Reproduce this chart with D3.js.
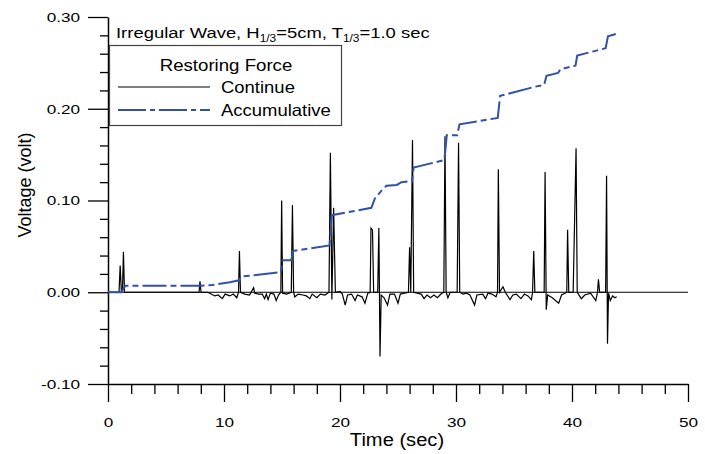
<!DOCTYPE html>
<html>
<head>
<meta charset="utf-8">
<script src="https://cdn.jsdelivr.net/npm/d3@7"></script>
<style>
  body { margin: 0; background: #fff; }
</style>
</head>
<body>
<div id="chart"></div>
<script>
// Restoring force record
// time in sec, voltage in volt

var contT = [0, 0.95, 1.05, 1.15, 1.25, 1.33, 1.42, 7.85, 7.93, 8.02,
  8.6, 8.9, 9.2, 9.5, 9.85, 10.1, 10.5, 10.8, 11.1, 11.25,
  11.33, 11.42, 11.8, 12.2, 12.55, 12.65, 13.0, 13.3, 13.5, 13.65,
  13.8, 14.0, 14.3, 14.5, 14.7, 14.9, 14.97, 15.05, 15.4, 15.8,
  15.9, 16.0, 16.1, 16.4, 16.8, 17.1, 17.4, 17.6, 18.0, 18.3,
  18.7, 19.05, 19.17, 19.3, 19.45, 19.6, 20.0, 20.2, 20.45, 20.65,
  21.0, 21.3, 21.5, 21.9, 22.15, 22.4, 22.6, 22.67, 22.8, 22.9,
  23.25, 23.35, 23.45, 23.55, 23.8, 24.1, 24.3, 24.7, 25.0, 25.2,
  25.9, 26.0, 26.1, 26.25, 26.35, 27.0, 27.25, 27.5, 27.8, 28.1,
  28.4, 28.7, 28.95, 29.05, 29.15, 29.3, 29.5, 30.1, 30.22, 30.32,
  30.6, 30.9, 31.2, 31.6, 31.8, 32.3, 32.55, 32.75, 33.1, 33.45,
  33.58, 33.65, 33.75, 34.05, 34.25, 34.65, 34.9, 35.2, 35.6, 35.9,
  36.2, 36.5, 36.6, 36.7, 36.8, 37.1, 37.6, 37.68, 37.78, 37.9,
  38.3, 38.85, 39.1, 39.4, 39.55, 39.62, 39.72, 40.1, 40.35, 40.45,
  40.8, 41.1, 41.6, 42.05, 42.2, 42.28, 42.38, 42.9, 42.98, 43.06,
  43.15, 43.3, 43.5, 43.7, 43.85];

var contV = [0, 0, 0.029, 0.001, 0.002, 0.044, 0, 0, 0.012, 0,
  0, -0.002, -0.004, -0.003, -0.007, -0.002, -0.004, -0.002, -0.006, 0,
  0.045, 0, -0.002, -0.003, 0.005, -0.001, -0.002, -0.002, -0.007, -0.002,
  -0.008, -0.001, -0.002, -0.009, -0.003, 0, 0.100, -0.001, -0.002, 0,
  0.095, 0, -0.005, -0.002, -0.003, -0.004, -0.007, -0.002, -0.006, -0.002,
  -0.003, 0, 0.152, -0.008, 0.092, 0, 0.001, -0.002, -0.014, -0.003,
  -0.002, -0.009, -0.003, -0.005, -0.012, -0.001, 0, 0.070, 0.068, 0,
  0, 0.070, -0.070, -0.003, -0.006, -0.014, -0.002, -0.002, -0.012, -0.002,
  0, 0.049, 0, 0.166, 0, -0.002, -0.007, -0.003, -0.006, -0.003,
  -0.006, -0.002, 0, 0.170, 0, -0.006, 0, 0, 0.163, 0,
  -0.002, -0.001, -0.003, -0.014, -0.003, -0.002, -0.007, -0.001, -0.002, -0.005,
  0, 0.134, 0, 0.006, 0, -0.008, -0.003, -0.002, -0.007, -0.002,
  -0.004, -0.008, 0, 0.045, 0, 0, 0, 0.131, -0.019, -0.003,
  -0.006, -0.012, -0.003, -0.001, 0, 0.068, 0, 0, 0.157, 0,
  -0.007, -0.003, -0.001, -0.009, 0, 0.014, 0, 0, 0.127, -0.056,
  -0.001, -0.009, -0.004, -0.006, -0.005];

var accT = [0, 1.15, 1.5, 8.0, 9.0, 9.8, 10.5, 11.3, 11.45, 14.9,
  15.05, 15.8, 15.95, 19.1, 19.3, 22.7, 23.0, 23.6, 24.0, 24.9,
  25.3, 26.2, 26.35, 29.0, 29.2, 30.1, 30.3, 33.6, 33.8, 36.8,
  37.6, 37.8, 38.8, 39.0, 40.3, 40.45, 42.9, 43.1, 43.9];

var accV = [0, 0, 0.007, 0.007, 0.0078, 0.0095, 0.011, 0.013, 0.017, 0.022,
  0.035, 0.035, 0.045, 0.051, 0.084, 0.092, 0.102, 0.111, 0.116, 0.117,
  0.120, 0.121, 0.136, 0.144, 0.171, 0.171, 0.183, 0.190, 0.214, 0.224,
  0.226, 0.236, 0.239, 0.243, 0.247, 0.258, 0.266, 0.279, 0.282];

var xMajor = [0, 10, 20, 30, 40, 50];
var yMajor = [-0.10, 0.00, 0.10, 0.20, 0.30];
var legendTitle = 'Restoring Force';
var legendLabels = ['Continue', 'Accumulative'];

var FONT = '"Liberation Sans", Arial, Helvetica, sans-serif';
var BLUE = '#2f52a8';


// SVG
var svg = d3.select('#chart')
  .append('svg')
  .attr('width', 705)
  .attr('height', 454)
  .style('background', '#fff');

var x = d3.scaleLinear().domain([0, 50]).range([108, 688]);
var y = d3.scaleLinear().domain([-0.1, 0.3]).range([384, 17]);


// Minor ticks
var xMinor = d3.range(0, 51, 2).filter(function (d) { return d % 10 != 0; });
var yMinor = d3.range(-10, 31, 2).filter(function (d) { return d % 10 != 0; })
  .map(function (d) { return d / 100; });

svg.append('g')
  .attr('transform', 'translate(0,' + y(-0.1) + ')')
  .call(d3.axisBottom(x).tickValues(xMinor).tickSize(10).tickSizeOuter(0).tickFormat(''))
  .call(function (g) { g.select('.domain').remove(); });

svg.append('g')
  .attr('transform', 'translate(' + x(0) + ',0)')
  .call(d3.axisLeft(y).tickValues(yMinor).tickSize(8).tickSizeOuter(0).tickFormat(''))
  .call(function (g) { g.select('.domain').remove(); });


// Major axes
var sxTick = 1.27;

var xAxis = svg.append('g')
  .attr('transform', 'translate(0,' + y(-0.1) + ')')
  .call(d3.axisBottom(x).tickValues(xMajor).tickSize(18).tickSizeOuter(0).tickPadding(15)
    .tickFormat(d3.format('d')));

xAxis.selectAll('text')
  .style('font', '13.5px ' + FONT)
  .attr('fill', '#000')
  .attr('transform', 'scale(' + sxTick + ',1)');

var yAxis = svg.append('g')
  .attr('transform', 'translate(' + x(0) + ',0)')
  .call(d3.axisLeft(y).tickValues(yMajor).tickSize(20).tickSizeOuter(0).tickPadding(8)
    .tickFormat(function (d) { return d.toFixed(2); }));

yAxis.selectAll('text')
  .style('font', '13.5px ' + FONT)
  .attr('fill', '#000')
  .attr('x', -28 / sxTick)
  .attr('transform', 'scale(' + sxTick + ',1)');

svg.selectAll('.tick line').attr('stroke', '#000').attr('stroke-width', 1.3);
svg.selectAll('.domain').attr('stroke', '#000').attr('stroke-width', 1.5);


// Zero line
svg.append('line')
  .attr('x1', x(0))
  .attr('x2', x(50))
  .attr('y1', y(0))
  .attr('y2', y(0))
  .attr('stroke', '#000')
  .attr('stroke-width', 1);


// Data lines
var line = d3.line()
  .x(function (d) { return x(d[0]); })
  .y(function (d) { return y(d[1]); });

svg.append('path')
  .datum(d3.zip(contT, contV))
  .attr('d', line)
  .attr('fill', 'none')
  .attr('stroke', '#000')
  .attr('stroke-width', 1.2)
  .attr('stroke-linejoin', 'miter');

svg.append('path')
  .datum(d3.zip(accT, accV))
  .attr('d', line)
  .attr('fill', 'none')
  .attr('stroke', BLUE)
  .attr('stroke-width', 2)
  .attr('stroke-dasharray', '24,4,6,4');


// Axis captions
svg.append('text')
  .attr('transform', 'translate(397,446) scale(1.06,1)')
  .attr('text-anchor', 'middle')
  .style('font', '19px ' + FONT)
  .text('Time (sec)');

svg.append('text')
  .attr('transform', 'translate(31,185) rotate(-90)')
  .attr('text-anchor', 'middle')
  .style('font', '18px ' + FONT)
  .text('Voltage (volt)');


// Title with subscripts
var title = svg.append('text')
  .attr('transform', 'translate(116,38) scale(1.19,1)')
  .style('font', '15.5px ' + FONT);
title.append('tspan').text('Irregular Wave, H');
title.append('tspan').attr('dy', 4).style('font-size', '10px').text('1/3');
title.append('tspan').attr('dy', -4).text('=5cm, T');
title.append('tspan').attr('dy', 4).style('font-size', '10px').text('1/3');
title.append('tspan').attr('dy', -4).text('=1.0 sec');


// Legend
svg.append('rect')
  .attr('x', 109.5)
  .attr('y', 45.5)
  .attr('width', 232)
  .attr('height', 80)
  .attr('fill', '#fff')
  .attr('stroke', '#444')
  .attr('stroke-width', 1.2);

svg.append('text')
  .attr('transform', 'translate(226,71) scale(1.13,1)')
  .attr('text-anchor', 'middle')
  .style('font', '16.5px ' + FONT)
  .text(legendTitle);

var legendStyles = [
  { color: '#000', width: 1.1, dash: null },
  { color: BLUE, width: 2, dash: '28,4,5,4' }
];

legendLabels.forEach(function (lab, i) {
  var ly = 87 + i * 23;
  svg.append('line')
    .attr('x1', 118)
    .attr('x2', 210)
    .attr('y1', ly)
    .attr('y2', ly)
    .attr('stroke', legendStyles[i].color)
    .attr('stroke-width', legendStyles[i].width)
    .attr('stroke-dasharray', legendStyles[i].dash);
  svg.append('text')
    .attr('transform', 'translate(221,' + (ly + 6) + ') scale(1.12,1)')
    .style('font', '16.5px ' + FONT)
    .text(lab);
});
</script>
</body>
</html>
